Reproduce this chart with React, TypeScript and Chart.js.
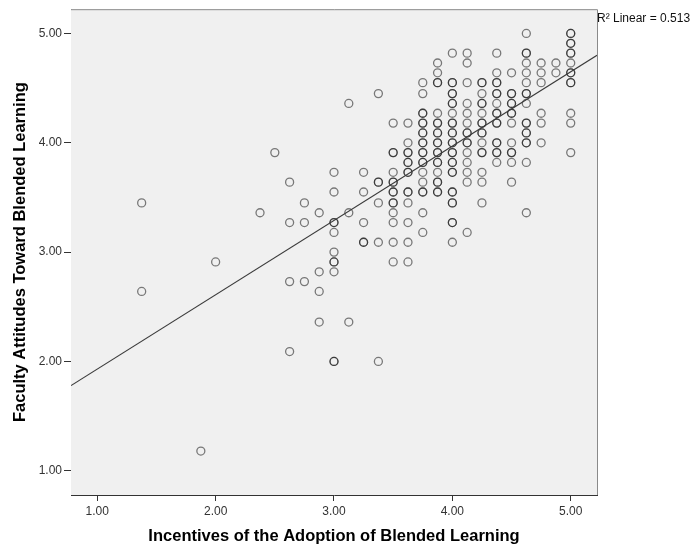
import React, { useEffect, useRef } from "react";
import { Chart, registerables } from "chart.js";

Chart.register(...registerables);

// ---- Data (x = Incentives level, arrays = Faculty Attitudes values at that level) ----
const xLevels = [1.375, 1.875, 2.0, 2.375, 2.5, 2.625, 2.75, 2.875, 3.0, 3.125, 3.25, 3.375, 3.5, 3.625, 3.75, 3.875, 4.0, 4.125, 4.25, 4.375, 4.5, 4.625, 4.75, 4.875, 5.0];

const y1375 = [3.45, 2.64];
const y1875 = [1.18];
const y2000 = [2.91];
const y2375 = [3.36];
const y2500 = [3.91];
const y2625 = [3.64, 3.27, 2.73, 2.09];
const y2750 = [3.45, 3.27, 2.73];
const y2875 = [3.36, 2.82, 2.64, 2.36];
const y3000 = [3.73, 3.55, 3.27, 3.27, 3.18, 3.0, 2.91, 2.91, 2.82, 2.0, 2.0];
const y3125 = [4.36, 3.36, 2.36];
const y3250 = [3.73, 3.55, 3.27, 3.09, 3.09];
const y3375 = [4.45, 3.64, 3.64, 3.45, 3.09, 2.0];
const y3500 = [4.18, 3.91, 3.91, 3.73, 3.64, 3.64, 3.55, 3.55, 3.45, 3.45, 3.36, 3.27, 3.09, 2.91];
const y3625 = [4.18, 4.0, 3.91, 3.91, 3.82, 3.82, 3.73, 3.73, 3.55, 3.55, 3.45, 3.27, 3.09, 2.91];
const y3750 = [4.55, 4.45, 4.27, 4.27, 4.18, 4.18, 4.09, 4.09, 4.0, 4.0, 3.91, 3.91, 3.82, 3.82, 3.73, 3.64, 3.55, 3.55, 3.36, 3.18];
const y3875 = [4.73, 4.64, 4.55, 4.55, 4.27, 4.18, 4.18, 4.09, 4.09, 4.0, 4.0, 3.91, 3.91, 3.82, 3.82, 3.73, 3.64, 3.64, 3.55, 3.55];
const y4000 = [4.82, 4.55, 4.55, 4.45, 4.45, 4.36, 4.36, 4.27, 4.18, 4.18, 4.09, 4.09, 4.0, 4.0, 3.91, 3.91, 3.82, 3.82, 3.73, 3.73, 3.55, 3.55, 3.45, 3.45, 3.27, 3.27, 3.09];
const y4125 = [4.82, 4.73, 4.55, 4.36, 4.27, 4.18, 4.09, 4.09, 4.0, 4.0, 3.91, 3.82, 3.73, 3.64, 3.18];
const y4250 = [4.55, 4.55, 4.45, 4.36, 4.36, 4.27, 4.18, 4.18, 4.09, 4.09, 4.0, 3.91, 3.91, 3.73, 3.64, 3.45];
const y4375 = [4.82, 4.64, 4.55, 4.55, 4.45, 4.45, 4.36, 4.27, 4.27, 4.18, 4.18, 4.0, 4.0, 3.91, 3.91, 3.82];
const y4500 = [4.64, 4.45, 4.45, 4.36, 4.36, 4.27, 4.27, 4.18, 4.0, 3.91, 3.91, 3.82, 3.64];
const y4625 = [5.0, 4.82, 4.82, 4.73, 4.64, 4.55, 4.45, 4.45, 4.36, 4.18, 4.18, 4.09, 4.09, 4.0, 4.0, 3.82, 3.36];
const y4750 = [4.73, 4.64, 4.55, 4.27, 4.18, 4.0];
const y4875 = [4.73, 4.64];
const y5000 = [5.0, 5.0, 4.91, 4.91, 4.82, 4.82, 4.73, 4.64, 4.64, 4.55, 4.55, 4.27, 4.18, 3.91];

const yColumns = [y1375, y1875, y2000, y2375, y2500, y2625, y2750, y2875, y3000, y3125, y3250, y3375, y3500, y3625, y3750, y3875, y4000, y4125, y4250, y4375, y4500, y4625, y4750, y4875, y5000];

// Fit line
const FIT_INTERCEPT = 1.25;
const FIT_SLOPE = 0.68;
const R2_LABEL = "R² Linear = 0.513";

const AXIS_MIN = 0.778;
const AXIS_MAX = 5.222;
const X_TICKS = [1, 2, 3, 4, 5];
const Y_TICKS = [1, 2, 3, 4, 5];

const X_TITLE = "Incentives of the Adoption of Blended Learning";
const Y_TITLE = "Faculty Attitudes Toward Blended Learning";

const FONT = '"Liberation Sans", Arial, Helvetica, sans-serif';

export default function App() {
  const ref = useRef<HTMLCanvasElement | null>(null);

  useEffect(() => {
    const canvas = ref.current;
    if (!canvas) return;

    const points: { x: number; y: number }[] = [];
    xLevels.forEach((x, i) => {
      yColumns[i].forEach((y) => points.push({ x, y }));
    });
    const fit = [AXIS_MIN, AXIS_MAX].map((x) => ({ x, y: FIT_INTERCEPT + FIT_SLOPE * x }));

    const bgPlugin = {
      id: "spssFrame",
      beforeDatasetsDraw(chart: any) {
        const { ctx, chartArea: a } = chart;
        ctx.save();
        ctx.fillStyle = "#F0F0F0";
        ctx.fillRect(a.left, a.top, a.right - a.left, a.bottom - a.top);
        ctx.restore();
      },
      afterDraw(chart: any) {
        const { ctx, chartArea: a } = chart;
        ctx.save();
        ctx.strokeStyle = "#8a8a8a";
        ctx.lineWidth = 1;
        ctx.beginPath();
        ctx.moveTo(a.left, a.top + 0.5);
        ctx.lineTo(a.right + 0.5, a.top + 0.5);
        ctx.lineTo(a.right + 0.5, a.bottom);
        ctx.stroke();
        ctx.fillStyle = "#111";
        ctx.font = `12px ${FONT}`;
        ctx.textBaseline = "alphabetic";
        ctx.textAlign = "left";
        ctx.fillText(R2_LABEL, a.right, 22);
        ctx.restore();
      },
    };

    const tickFont = { family: FONT, size: 12 };
    const titleFont = { family: FONT, size: 16.5, weight: "bold" as const };

    const chart = new Chart(canvas, {
      type: "scatter",
      data: {
        datasets: [
          {
            type: "line",
            data: fit,
            borderColor: "#3a3a3a",
            borderWidth: 1.1,
            pointRadius: 0,
            fill: false,
          } as any,
          {
            data: points,
            pointStyle: "circle",
            pointRadius: 4,
            pointBorderWidth: 1.3,
            pointBorderColor: "rgba(0,0,0,0.5)",
            pointBackgroundColor: "rgba(0,0,0,0)",
            showLine: false,
          } as any,
        ],
      },
      options: {
        responsive: false,
        animation: false,
        devicePixelRatio: 1,
        layout: { padding: { left: 0, top: 9, right: 96, bottom: 0 } },
        plugins: { legend: { display: false }, tooltip: { enabled: false }, title: { display: false } },
        scales: {
          x: {
            type: "linear",
            position: "bottom",
            min: AXIS_MIN,
            max: AXIS_MAX,
            afterBuildTicks: (s: any) => {
              s.ticks = X_TICKS.map((v) => ({ value: v }));
            },
            afterFit: (s: any) => {
              s.height = 53;
            },
            ticks: {
              callback: (v: any) => Number(v).toFixed(2),
              font: tickFont,
              color: "#333",
              padding: 3,
              maxRotation: 0,
              autoSkip: false,
            },
            grid: { drawOnChartArea: false, drawTicks: true, tickLength: 6, color: "#333" },
            border: { display: true, color: "#333", width: 1 },
            title: { display: true, text: X_TITLE, font: titleFont, color: "#000", padding: { top: 0, bottom: 1.6 } },
          },
          y: {
            type: "linear",
            position: "left",
            min: AXIS_MIN,
            max: AXIS_MAX,
            afterBuildTicks: (s: any) => {
              s.ticks = Y_TICKS.map((v) => ({ value: v }));
            },
            afterFit: (s: any) => {
              s.width = 71;
            },
            ticks: {
              callback: (v: any) => Number(v).toFixed(2),
              font: tickFont,
              color: "#333",
              padding: 2,
              autoSkip: false,
            },
            grid: { drawOnChartArea: false, drawTicks: true, tickLength: 7, color: "#333" },
            border: { display: true, color: "#333", width: 1 },
            title: { display: true, text: Y_TITLE, font: titleFont, color: "#000", padding: { top: 11, bottom: 0 } },
          },
        },
      },
      plugins: [bgPlugin],
    });

    return () => chart.destroy();
  }, []);

  return (
    <div style={{ position: "absolute", left: 0, top: 0, width: 693, height: 548, background: "#fff" }}>
      <canvas ref={ref} width={693} height={548} style={{ width: 693, height: 548, display: "block" }} />
    </div>
  );
}
